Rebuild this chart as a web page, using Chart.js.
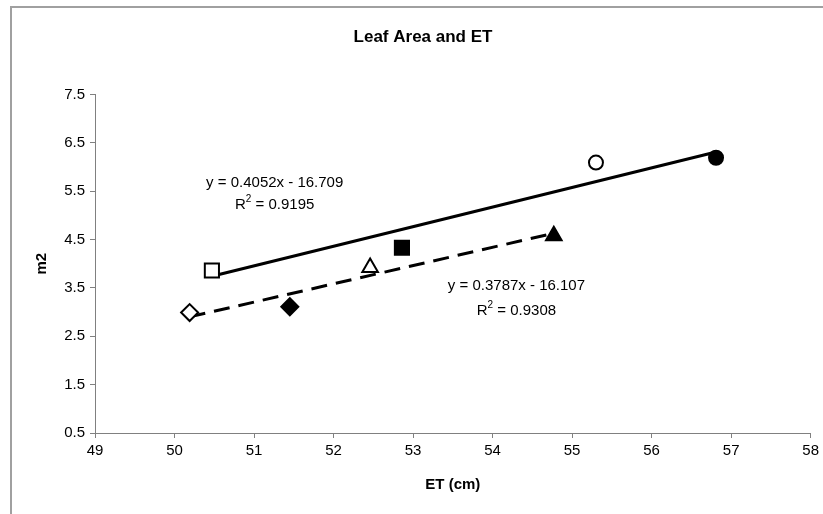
<!DOCTYPE html>
<html>
<head>
<meta charset="utf-8">
<script src="https://cdn.jsdelivr.net/npm/chart.js@4/dist/chart.umd.min.js"></script>
<style>
  html,body{margin:0;padding:0;background:#fff;}
  #wrap{width:823px;height:514px;position:relative;}
</style>
</head>
<body>
<div id="wrap"><canvas id="leafChart"></canvas></div>
<script>
// series with the solid trendline
const etSolid = [50.47, 52.86, 55.3, 56.81];
const areaSolid = [3.86, 4.33, 6.09, 6.19];
const styleSolid = ["rect", "rect", "circle", "circle"];
const fillSolid = [false, true, false, true];

// series with the dashed trendline
const etDashed = [50.19, 51.45, 52.46, 54.77];
const areaDashed = [2.99, 3.11, 3.92, 4.58];
const styleDashed = ["rectRot", "rectRot", "triangle", "triangle"];
const fillDashed = [false, true, false, true];

// trendline end points
const trendSolidX = [50.47, 56.81];
const trendSolidY = [3.742, 6.31];
const trendDashedX = [50.19, 54.77];
const trendDashedY = [2.90, 4.63];

const xTicks = [49, 50, 51, 52, 53, 54, 55, 56, 57, 58];
const yTicks = [0.5, 1.5, 2.5, 3.5, 4.5, 5.5, 6.5, 7.5];

const eqLabels = [
    {x: 51.26, y: 5.68, text: "y = 0.4052x - 16.709"},
    {x: 51.26, y: 5.22, text: "R\u00B2 = 0.9195", sup: true},
    {x: 54.3, y: 3.54, text: "y = 0.3787x - 16.107"},
    {x: 54.3, y: 3.03, text: "R\u00B2 = 0.9308", sup: true}
];

const FONT = "'Liberation Sans', Arial, sans-serif";
const sizeFor = {rect: 10, rectRot: 8.5, triangle: 9, circle: 7};

function pts(xs, ys){
    return xs.map((x, i) => ({x: x, y: ys[i]}));
}

const frame = {
    id: "frame",
    beforeDraw(chart){
        const c = chart.ctx;
        c.save();
        c.fillStyle = "#fff";
        c.fillRect(0, 0, chart.width, chart.height);
        c.strokeStyle = "#a0a0a0";
        c.lineWidth = 2;
        c.beginPath();
        c.moveTo(11, chart.height + 5);
        c.lineTo(11, 7);
        c.lineTo(chart.width + 5, 7);
        c.stroke();
        c.restore();
    }
};

const equations = {
    id: "equations",
    afterDatasetsDraw(chart){
        const c = chart.ctx;
        const xs = chart.scales.x, ys = chart.scales.y;
        c.save();
        c.fillStyle = "#000";
        c.textBaseline = "middle";
        eqLabels.forEach(l => {
            const px = xs.getPixelForValue(l.x), py = ys.getPixelForValue(l.y);
            c.textAlign = "left";
            if(l.sup){
                // R² with a raised 2
                const parts = l.text.split("\u00B2");
                c.font = "15px " + FONT;
                const w1 = c.measureText(parts[0]).width;
                const w2 = c.measureText(parts[1]).width;
                c.font = "10px " + FONT;
                const ws = c.measureText("2").width;
                const sx = px - (w1 + ws + w2) / 2;
                c.font = "15px " + FONT;
                c.fillText(parts[0], sx, py);
                c.font = "10px " + FONT;
                c.fillText("2", sx + w1, py - 5);
                c.font = "15px " + FONT;
                c.fillText(parts[1], sx + w1 + ws, py);
            } else {
                c.font = "15px " + FONT;
                c.textAlign = "center";
                c.fillText(l.text, px, py);
            }
        });
        c.restore();
    }
};

const ctx = document.getElementById("leafChart").getContext("2d");
new Chart(ctx, {
    type: "scatter",
    data: {
        datasets: [
            {
                label: "solid points",
                data: pts(etSolid, areaSolid),
                pointStyle: styleSolid,
                pointRadius: styleSolid.map(s => sizeFor[s]),
                pointBackgroundColor: fillSolid.map(f => f ? "#000" : "#fff"),
                pointBorderColor: "#000",
                pointBorderWidth: 2,
                showLine: false,
                order: 0
            },
            {
                label: "dashed points",
                data: pts(etDashed, areaDashed),
                pointStyle: styleDashed,
                pointRadius: styleDashed.map(s => sizeFor[s]),
                pointBackgroundColor: fillDashed.map(f => f ? "#000" : "#fff"),
                pointBorderColor: "#000",
                pointBorderWidth: 2,
                showLine: false,
                order: 0
            },
            {
                label: "solid trend",
                data: pts(trendSolidX, trendSolidY),
                showLine: true,
                borderColor: "#000",
                borderWidth: 3,
                pointRadius: 0,
                order: 1
            },
            {
                label: "dashed trend",
                data: pts(trendDashedX, trendDashedY),
                showLine: true,
                borderColor: "#000",
                borderWidth: 3,
                borderDash: [16, 9],
                pointRadius: 0,
                order: 1
            }
        ]
    },
    options: {
        responsive: true,
        maintainAspectRatio: false,
        animation: false,
        layout: {padding: {left: 23, right: 0, top: 10, bottom: 20}},
        plugins: {
            legend: {display: false},
            tooltip: {enabled: false},
            title: {
                display: true,
                text: "Leaf Area and ET",
                color: "#000",
                font: {family: FONT, size: 17, weight: "bold"},
                padding: {top: 17, bottom: 47}
            }
        },
        scales: {
            x: {
                type: "linear",
                min: 49,
                max: 58,
                afterBuildTicks(scale){ scale.ticks = xTicks.map(v => ({value: v})); },
                ticks: {color: "#000", padding: 4, font: {family: FONT, size: 15}},
                grid: {display: true, drawOnChartArea: false, drawTicks: true, tickLength: 5, color: "#808080"},
                border: {display: true, color: "#808080", width: 1},
                title: {display: true, text: "ET (cm)", color: "#000", padding: {top: 12, bottom: 0},
                    font: {family: FONT, size: 15, weight: "bold"}}
            },
            y: {
                type: "linear",
                min: 0.5,
                max: 7.5,
                afterBuildTicks(scale){ scale.ticks = yTicks.map(v => ({value: v})); },
                afterFit(scale){ scale.width = 72; },
                ticks: {color: "#000", padding: 5, font: {family: FONT, size: 15},
                    callback: v => v.toFixed(1)},
                grid: {display: true, drawOnChartArea: false, drawTicks: true, tickLength: 5, color: "#808080"},
                border: {display: true, color: "#808080", width: 1},
                title: {display: true, text: "m2", color: "#000", padding: {top: 10, bottom: 0},
                    font: {family: FONT, size: 15, weight: "bold"}}
            }
        }
    },
    plugins: [frame, equations]
});
</script>
</body>
</html>
